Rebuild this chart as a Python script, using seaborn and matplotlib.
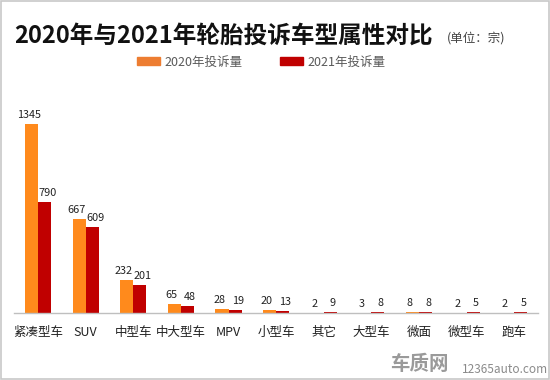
import numpy as np
import pandas as pd
import matplotlib
matplotlib.use('Agg')
import matplotlib.pyplot as plt
import seaborn as sns

sns.set_style('white')
plt.rcParams['font.family'] = ['Noto Sans CJK SC', 'DejaVu Sans']

# ── DATA ──
categories = ['紧凑型车', 'SUV', '中型车', '中大型车', 'MPV', '小型车',
              '其它', '大型车', '微面', '微型车', '跑车']
counts_2020 = [1345, 667, 232, 65, 28, 20, 2, 3, 8, 2, 2]
counts_2021 = [790, 609, 201, 48, 19, 13, 9, 8, 8, 5, 5]
series_names = ['2020年投诉量', '2021年投诉量']
colors = ['#FF8A1C', '#C00000']

df = pd.DataFrame({
    '车型': categories * 2,
    '投诉量': counts_2020 + counts_2021,
    '年份': [series_names[0]] * len(categories) + [series_names[1]] * len(categories),
})

fig = plt.figure(figsize=(5.5, 3.8), dpi=100)
ax = fig.add_axes([0.026, 0.176, 0.952, 0.574])

sns.barplot(data=df, x='车型', y='投诉量', hue='年份',
            palette=colors, saturation=1, width=0.55, gap=0, ax=ax,
            legend=False, edgecolor='none')

# value labels, nudged apart a little like the original
for cont, dx in zip(ax.containers, [-2, 2]):
    for t in ax.bar_label(cont, padding=3, fontsize=7.8, color='#222222'):
        t.xyann = (dx, 3)

ax.set_ylim(0, 1550)
ax.set_xlim(-0.5, len(categories) - 0.5)
ax.set_yticks([])
ax.set_xlabel('')
ax.set_ylabel('')
for s in ['top', 'left', 'right']:
    ax.spines[s].set_visible(False)
ax.spines['bottom'].set_color('#BFBFBF')
ax.spines['bottom'].set_linewidth(1.0)

ax.set_xticks(range(len(categories)))
ax.set_xticklabels(categories, fontsize=9, color='#222222')
ax.tick_params(axis='x', which='major', length=0, pad=9)
ax.set_xticks(np.arange(-0.5, len(categories)), minor=True)
ax.tick_params(axis='x', which='minor', length=4, color='#BFBFBF', width=1)

# title
fig.text(0.026, 0.905, '2020年与2021年轮胎投诉车型属性对比', fontsize=17,
         fontweight='bold', color='#111111', va='center', ha='left')
fig.text(0.812, 0.9, '(单位：宗)', fontsize=9, color='#444444',
         va='center', ha='left')

# legend
handles = [plt.Rectangle((0, 0), 1, 1, color=c) for c in ['#ED7D31', '#C00000']]
fig.legend(handles, series_names, loc='center', bbox_to_anchor=(0.475, 0.837),
           ncol=2, frameon=False, fontsize=9, handlelength=1.8, handleheight=0.5,
           columnspacing=3.0, handletextpad=0.4, labelcolor='#595959')

# watermark
fig.text(0.71, 0.04, '车质网', fontsize=14, fontweight='bold', color='#9A9A9A',
         va='center', ha='left')
fig.text(0.84, 0.028, '12365auto.com', fontsize=8.5, color='#8A8A8A',
         va='center', ha='left')

# frame
fig.patches.append(plt.Rectangle((0.002, 0.003), 0.996, 0.994, transform=fig.transFigure,
                                 fill=False, edgecolor='#C8C8C8', linewidth=1.2))

plt.savefig('out.png', dpi=100)
plt.close()
